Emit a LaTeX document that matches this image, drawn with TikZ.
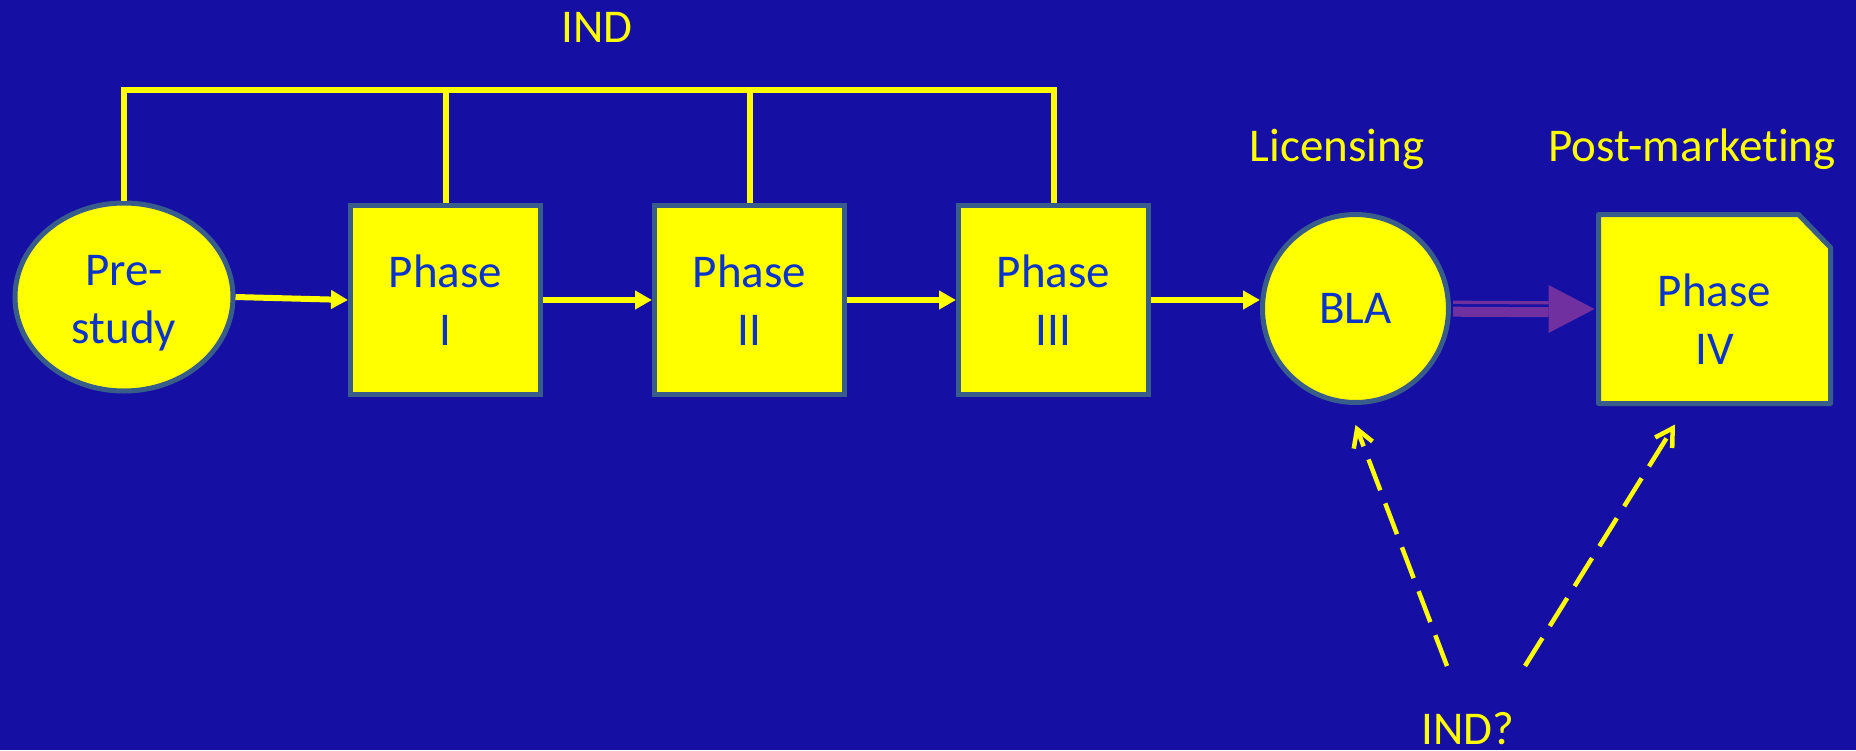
\documentclass[tikz,border=0pt]{standalone}
\usepackage{fontspec}
\setmainfont{Carlito}[Ligatures=NoCommon]
\usetikzlibrary{arrows.meta,shapes.geometric,calc,backgrounds}
\definecolor{bg}{RGB}{21,16,163}
\definecolor{nodeblue}{RGB}{10,51,204}
\definecolor{edgec}{RGB}{56,93,138}
\definecolor{ylw}{RGB}{255,255,0}
\definecolor{purp}{RGB}{112,48,160}
\begin{document}
\begin{tikzpicture}[x=1pt,y=-1pt,
  every node/.style={font=\fontsize{47}{58}\selectfont},
  box/.style={draw=edgec, line width=5pt, fill=ylw, text=nodeblue, align=center, inner sep=0pt, minimum width=190pt, minimum height=189pt},
  oval/.style={ellipse, draw=edgec, line width=5pt, fill=ylw, text=nodeblue, align=center, inner sep=0pt},
  lbl/.style={text=ylw, anchor=base, inner sep=0pt},
  flow/.style={draw=ylw, line width=6pt, -{Triangle[length=17pt,width=18pt]}},
  bracket/.style={draw=ylw, line width=6pt},
  maybe/.style={draw=ylw, line width=4.5pt, dash pattern=on 33pt off 14pt, -{Straight Barb[length=17pt,width=20pt]}}
]
\useasboundingbox (0,0) rectangle (1856,750);
% nodes
\node[oval, minimum width=218pt, minimum height=188pt] (pre) at (124,297) {\rule{0pt}{43pt}Pre-\\study};
\node[box] (p1) at (445.5,300) {Phase\\I};
\node[box] (p2) at (749.5,300) {Phase\\II};
\node[box] (p3) at (1053.5,300) {Phase\\III};
\node[oval, minimum width=186pt, minimum height=188pt] (bla) at (1355.5,308.5) {BLA};
\node[box, draw=none, fill=none, outer sep=0pt, minimum width=232pt] (p4) at (1714.5,309) {\rule{0pt}{52pt}Phase\\IV};
\begin{scope}[on background layer]
\fill[bg] (0,0) rectangle (1856,750);
\draw[draw=edgec, line width=5pt, fill=ylw, line join=round] (p4.north west) -- ($(p4.north east)+(-32,0)$) -- ($(p4.north east)+(0,33)$) -- (p4.south east) -- (p4.south west) -- cycle;
\end{scope}
% labels
\node[lbl] (ind) at (597,42) {IND};
\node[lbl] (lic) at (1337,161) {Licensing};
\node[lbl] (post) at (1692,161) {Post-marketing};
\node[lbl] (indq) at (1468,744) {IND?};
% flow arrows
\draw[flow] (pre.east) -- (p1.west);
\draw[flow] (p1.east) -- (p2.west);
\draw[flow] (p2.east) -- (p3.west);
\draw[flow] (p3.east) -- (p3.east -| bla.west);
% IND bracket
\coordinate (top) at (0,90);
\draw[bracket] (pre.north) -- (pre.north |- top) -- (p3.north |- top) -- (p3.north);
\draw[bracket] (p1.north) -- (p1.north |- top);
\draw[bracket] (p2.north) -- (p2.north |- top);
% purple arrow
\coordinate (pa) at (bla.east);
\coordinate (pt) at ($(p4.west)+(-4,0)$);
\draw[purp, line width=3.3pt] ($(pa)+(2,-6.2)$) -- ($(pt)+(-46,-6.2)$);
\draw[purp, line width=10pt] ($(pa)+(2,3.2)$) -- ($(pt)+(-46,3.2)$);
\fill[purp] (pt) -- ($(pt)+(-46,-24)$) -- ($(pt)+(-46,24)$) -- cycle;
% dashed arrows
\coordinate (d1) at (1447,666);
\coordinate (d2) at (1525,666);
\draw[maybe] (d1) -- ($(bla.south)+(0,20)$);
\draw[maybe] (d2) -- ($(p4.south)+(-39.5,21)$);
\end{tikzpicture}
\end{document}
